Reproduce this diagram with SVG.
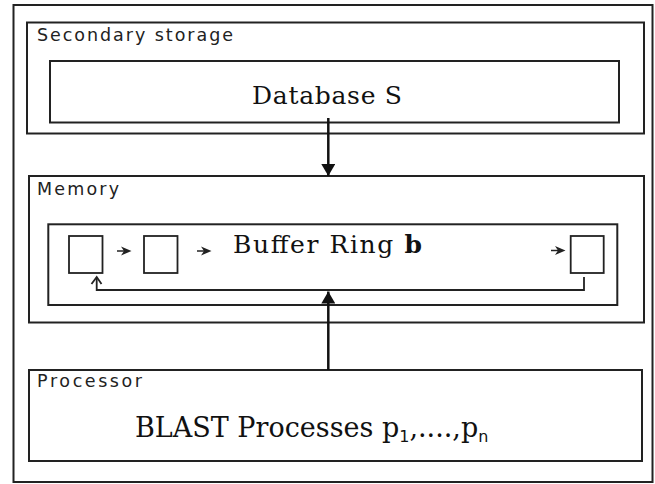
<svg xmlns="http://www.w3.org/2000/svg" width="655" height="484" viewBox="0 0 655 484">
  <style>
    .box { fill: none; stroke: #222; stroke-width: 2; }
    .cell { fill: #fff; stroke: #222; stroke-width: 1.8; }
    .label { font-family: "DejaVu Sans", Verdana, sans-serif; font-size: 17.5px; fill: #222; }
    .title { font-family: "DejaVu Serif", "Liberation Serif", serif; font-size: 25px; fill: #111; }
    .big { font-size: 27px; }
    .sub { font-family: "DejaVu Sans", sans-serif; font-size: 16px; }
    .wire { fill: none; stroke: #111; stroke-width: 2.5; }
    .ring { fill: none; stroke: #222; stroke-width: 1.8; }
  </style>
  <defs>
    <marker id="head" viewBox="0 0 12 14" refX="12" refY="7" markerWidth="12" markerHeight="14" markerUnits="userSpaceOnUse" orient="auto">
      <path d="M0,0 L12,7 L0,14 Z" fill="#111"/>
    </marker>
  </defs>

  <rect width="655" height="484" fill="#fff"/>

  <!-- enclosing frame -->
  <rect id="frame" class="box" x="13.5" y="5" width="639" height="477"/>

  <g id="secondary-storage">
    <rect class="box" x="27" y="22.5" width="617" height="111"/>
    <text class="label" x="37" y="41" textLength="196" lengthAdjust="spacing">Secondary storage</text>
  </g>

  <g id="database">
    <rect class="box" x="50" y="61" width="569" height="61.5"/>
    <text class="title" x="252" y="104" textLength="150" lengthAdjust="spacing">Database S</text>
  </g>

  <g id="memory">
    <rect class="box" x="29" y="176" width="615" height="146.5"/>
    <text class="label" x="37" y="195" textLength="82" lengthAdjust="spacing">Memory</text>
  </g>

  <g id="buffer-ring">
    <rect class="box" x="48.3" y="224.3" width="569" height="80.7"/>
    <text class="title" x="233" y="253" textLength="189" lengthAdjust="spacing">Buffer Ring <tspan font-weight="bold">b</tspan></text>
  </g>

  <g id="slot-1"><rect class="cell" x="69" y="236" width="33.5" height="37"/></g>
  <g id="slot-2"><rect class="cell" x="144" y="236" width="33.5" height="37"/></g>
  <g id="slot-n"><rect class="cell" x="570.7" y="236" width="33" height="37"/></g>

  <g id="processor">
    <rect class="box" x="29" y="370" width="613" height="91"/>
    <text class="label" x="37" y="387">P</text>
    <text class="label" x="50" y="387" textLength="92" lengthAdjust="spacing">rocessor</text>
    <text class="title big" x="135" y="437">BLAST Processes p<tspan class="sub" dy="5">1</tspan><tspan dy="-5">,....,p</tspan><tspan class="sub" dy="5">n</tspan></text>
  </g>

  <g id="connectors">
    <!-- storage to memory -->
    <line class="wire" x1="328.3" y1="118" x2="328.3" y2="176" marker-end="url(#head)"/>
    <!-- processor to buffer ring -->
    <line class="wire" x1="328.3" y1="370" x2="328.3" y2="291.5" marker-end="url(#head)"/>
    <!-- ring steps between slots -->
    <g fill="#222">
      <path d="M117,251 L124,251" stroke="#222" stroke-width="1.5"/>
      <path d="M121,246.5 L131.5,251 L121,255.5 L124,251 Z"/>
      <path d="M197,251 L204,251" stroke="#222" stroke-width="1.5"/>
      <path d="M201,246.5 L211.5,251 L201,255.5 L204,251 Z"/>
      <path d="M551,250.5 L558,250.5" stroke="#222" stroke-width="1.5"/>
      <path d="M555,246 L565.5,250.5 L555,255 L558,250.5 Z"/>
    </g>
    <!-- wrap-around from last slot to first -->
    <polyline class="ring" points="584,277 584,290 96.7,290 96.7,277.5"/>
    <polyline class="ring" points="91.5,284 96.7,277 101.5,284"/>
  </g>
</svg>
